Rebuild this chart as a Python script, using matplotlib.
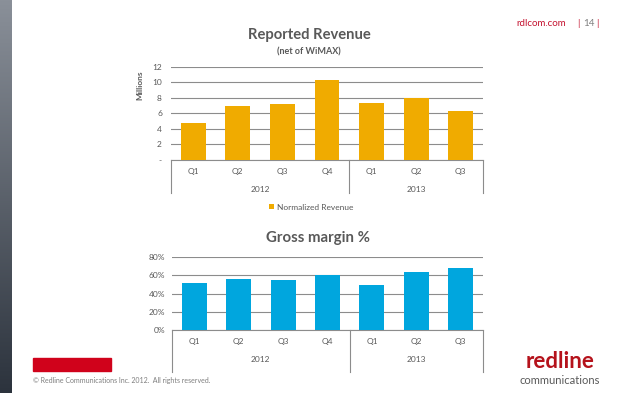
import numpy as np
import matplotlib
matplotlib.use("Agg")
import matplotlib.pyplot as plt
from matplotlib import patches

plt.rcParams['font.family'] = ['Lato', 'DejaVu Sans']

# data
quarters = ['Q1', 'Q2', 'Q3', 'Q4', 'Q1', 'Q2', 'Q3']
years = ['2012', '2013']
year_span = [(0, 3), (4, 6)]
revenue = [4.7, 6.95, 7.15, 10.3, 7.35, 7.95, 6.3]      # millions
gross_margin = [51.5, 56.5, 55.5, 61.0, 50.0, 63.5, 68.5]  # percent
rev_ticks = [0, 2, 4, 6, 8, 10, 12]
rev_ticklabels = ['-', '2', '4', '6', '8', '10', '12']
gm_ticks = [0, 20, 40, 60, 80]
gm_ticklabels = ['0%', '20%', '40%', '60%', '80%']

W, H = 638, 399
GOLD = '#F0AB00'
BLUE = '#00A6DE'
TXT = '#595959'
GRID = '#8c8c8c'
RED = '#C4122F'

fig = plt.figure(figsize=(W / 100, H / 100), dpi=100)
fig.patch.set_facecolor('white')


def box(x0, y0, x1, y1):
    # pixel box (top-left origin) -> figure fraction rect
    return [x0 / W, 1 - y1 / H, (x1 - x0) / W, (y1 - y0) / H]


def category_axis(ax, drop_q, drop_year, drop_line):
    hpx = ax.get_position().height * H
    ax.set_xlim(-0.5, len(quarters) - 0.5)
    ax.set_xticks(range(len(quarters)))
    ax.set_xticklabels(quarters, fontsize=6, color=TXT)
    ax.tick_params(axis='x', length=0, pad=drop_q * 72 / 100 - 3)
    for yr, (a, b) in zip(years, year_span):
        ax.annotate(yr, xy=((a + b) / 2, 0), xycoords=('data', 'axes fraction'),
                    xytext=(0, -drop_year * 72 / 100), textcoords='offset points',
                    ha='center', va='center', fontsize=6, color=TXT)
    for xs in [-0.5, 3.5, 6.5]:
        ax.axvline(xs, ymin=-drop_line / hpx, ymax=0, color=GRID, lw=0.8, clip_on=False)


def style(ax, ticks, labels, pad):
    for s in ['top', 'right', 'left']:
        ax.spines[s].set_visible(False)
    ax.spines['bottom'].set_color(GRID)
    ax.spines['bottom'].set_linewidth(0.8)
    ax.set_yticks(ticks)
    ax.set_yticklabels(labels, fontsize=6, color=TXT)
    ax.tick_params(axis='y', length=0, pad=pad)
    ax.set_ylim(ticks[0], ticks[-1])
    ax.yaxis.grid(True, color=GRID, lw=0.8)
    ax.set_axisbelow(True)


# left gradient strip
strip = fig.add_axes(box(0, 0, 12, 393))
grad = np.linspace(0, 1, 256).reshape(-1, 1)
cmap = matplotlib.colors.LinearSegmentedColormap.from_list('s', ['#8a9099', '#2c333d'])
strip.imshow(grad, aspect='auto', cmap=cmap)
strip.axis('off')

# --- revenue chart
ax1 = fig.add_axes(box(171, 66.7, 483, 160))
x = np.arange(len(quarters))
ax1.bar(x, revenue, width=0.56, color=GOLD, label='Normalized Revenue', zorder=3)
style(ax1, rev_ticks, rev_ticklabels, 6.5)
category_axis(ax1, 12, 29, 33)
ax1.set_ylabel('Millions', fontsize=6, fontweight='bold', color=TXT)
ax1.yaxis.set_label_coords(-0.09, 0.8)
ax1.legend(loc='center', bbox_to_anchor=(311 / W, 1 - 207 / H), bbox_transform=fig.transFigure,
           frameon=False, fontsize=6, handlelength=0.6, handleheight=0.6,
           handletextpad=0.3, labelcolor=TXT)

fig.text(309 / W, 1 - 35 / H, 'Reported Revenue', ha='center', va='center',
         fontsize=10.6, fontweight='bold', color=TXT)
fig.text(309 / W, 1 - 52 / H, '(net of WiMAX)', ha='center', va='center',
         fontsize=6.5, fontweight='bold', color=TXT)

# --- gross margin chart
ax2 = fig.add_axes(box(172, 257.3, 483, 330))
ax2.bar(x, gross_margin, width=0.56, color=BLUE, zorder=3)
style(ax2, gm_ticks, gm_ticklabels, 5)
category_axis(ax2, 12, 29, 42)

fig.text(318 / W, 1 - 238 / H, 'Gross margin %', ha='center', va='center',
         fontsize=10.8, fontweight='bold', color=TXT)

# header
fig.text(516 / W, 1 - 23 / H, 'rdlcom.com', ha='left', va='center', fontsize=7, color=RED)
fig.text(577 / W, 1 - 23 / H, '|', ha='left', va='center', fontsize=7, color=RED)
fig.text(583 / W, 1 - 23 / H, '14', ha='left', va='center', fontsize=7, color='#7f7f7f')
fig.text(596 / W, 1 - 23 / H, '|', ha='left', va='center', fontsize=7, color=RED)

# footer
fig.patches.append(patches.Rectangle((33 / W, 1 - 371 / H), 78 / W, 13 / H,
                                     transform=fig.transFigure, color='#D0021B'))
fig.text(33 / W, 1 - 381 / H, '\u00a9 Redline Communications Inc. 2012.  All rights reserved.',
         ha='left', va='center', fontsize=5, color='#7f7f7f')
fig.text(560 / W, 1 - 362 / H, 'redline', ha='center', va='center', fontsize=16,
         fontweight='bold', color='#B5121B')
fig.text(560 / W, 1 - 380 / H, 'communications', ha='center', va='center', fontsize=8,
         color='#595959')

fig.savefig('out.png', dpi=100, facecolor='white')
